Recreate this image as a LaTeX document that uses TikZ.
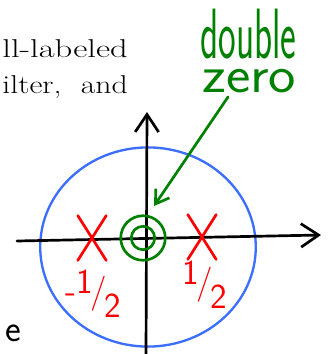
\documentclass[tikz,border=0pt]{standalone}
\usepackage{fontspec}
\usepackage{tikz}
\usetikzlibrary{positioning,arrows.meta,shapes.geometric,shapes.misc}
\definecolor{penblue}{RGB}{60,110,255}
\definecolor{pengreen}{RGB}{0,128,0}
\definecolor{penred}{RGB}{255,0,0}
\newcommand{\wideline}[1]{\resizebox{107pt}{\height}{#1}}

\begin{document}
\begin{tikzpicture}[
  x=0.03cm, y=-0.03cm,
  axis/.style={draw, line width=2.3pt, line cap=round, -{Straight Barb[length=15pt,width=20pt]}},
  prose/.style={font=\fontsize{22}{26}\selectfont, anchor=base east, inner sep=0pt},
  hand/.style={font=\sffamily\fontsize{32}{36}\selectfont, inner sep=0pt},
  frac/.style={hand, text=penred, font=\sffamily\fontsize{30}{34}\selectfont},
  pole/.style={cross out, draw=penred, line width=2.3pt, line cap=round, minimum width=22pt, minimum height=36pt, inner sep=0pt},
  ring/.style={circle, draw=pengreen, line width=2.3pt, inner sep=0pt}]
\useasboundingbox (0,0) rectangle (332,354);
% text running into the sketch
\node[prose] (ln1) at (128,57) {\wideline{ll-labeled}};
\node[prose] (ln2) at (128,93) {\wideline{ilter,\ \ and}};
% unit circle
\node[ellipse, draw=penblue, line width=2pt, minimum width=184pt, minimum height=170pt, inner sep=0pt] (disk) at (148,247) {};
% axes
\coordinate (xl) at (17,241);
\coordinate (xr) at (321,235);
\coordinate (yb) at (146,356);
\coordinate (yt) at (147,112);
\draw[axis] (xl) -- (xr);
\draw[axis] (yb) -- (yt);
% poles and double zero
\node[pole] (pl) at (92,238) {};
\node[pole] (pr) at (202,237) {};
\node[ring, minimum size=38pt] (zo) at (143,238) {};
\node[ring, minimum size=20pt] (zi) at (143,238) {};
\node[frac] (lbm) at (93,294) {-\raisebox{.6ex}{1}\kern-2pt/\kern-2pt\raisebox{-1ex}{2}};
\node[frac] (lbp) at (205,285) {\raisebox{.6ex}{1}\kern-2pt/\kern-2pt\raisebox{-1ex}{2}};
% annotation
\node[hand, text=pengreen, anchor=base west, yscale=1.9, transform shape] (dbl) at (200,58) {double};
\node[hand, text=pengreen, anchor=base west, xscale=1.55, yscale=1.4, transform shape] (zro) at (202,92) {zero};
\coordinate (ztail) at (228,97);
\coordinate (ztip) at (154,206);
\draw[pengreen, line width=2.3pt, line cap=round, -{Straight Barb[length=11pt,width=14pt]}] (ztail) -- (ztip);
\node[hand] (tail) at (13,333) {e};
\end{tikzpicture}
\end{document}
